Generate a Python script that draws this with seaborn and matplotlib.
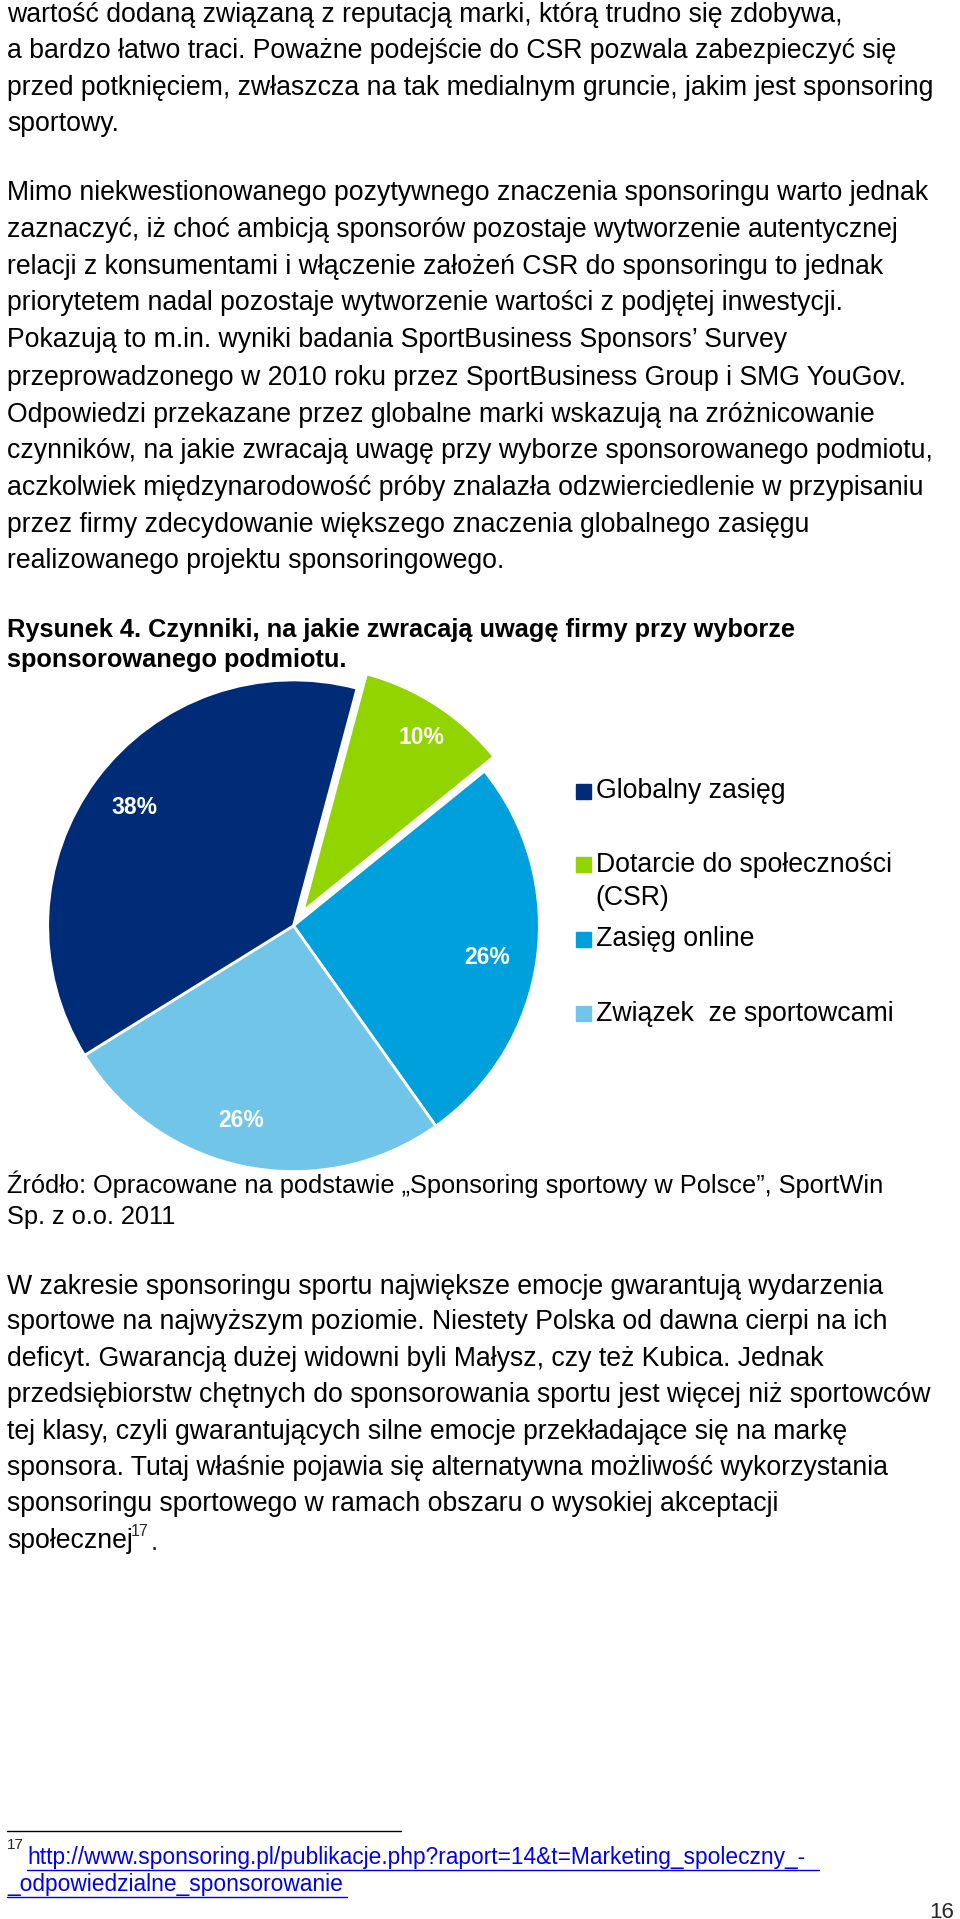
import matplotlib
matplotlib.use("Agg")
import matplotlib.pyplot as plt
import seaborn as sns

sns.set_theme(style="white")
plt.rcParams["font.family"] = "Liberation Sans"

categories = ["Dotarcie do społeczności\n(CSR)", "Zasięg online", "Związek  ze sportowcami", "Globalny zasięg"]
values = [10, 26, 26, 38]
colors = ["#92D400", "#00A0DC", "#71C5E8", "#002C77"]
legend_order = [3, 0, 1, 2]

S = 960 / 785.0
fig = plt.figure(figsize=(9.6, 19.19), dpi=100)

# pie
cx, cy, r = 240 * S, 757 * S, 201 * S
ax = fig.add_axes([(cx - r) / 960, 1 - (cy + r) / 1919, 2 * r / 960, 2 * r / 1919])
wedges, _ = ax.pie(values, colors=colors, startangle=75, counterclock=False,
                   explode=[0.07, 0, 0, 0],
                   wedgeprops=dict(edgecolor="white", linewidth=2))
ax.set_xlim(-1, 1); ax.set_ylim(-1, 1)
ax.set_aspect("equal")

page = fig.add_axes([0, 0, 1, 1], zorder=5)
page.set_xlim(0, 960); page.set_ylim(1919, 0); page.axis("off")
page.patch.set_alpha(0)

def T(x, y, s, **kw):
    kw.setdefault("fontsize", 19.2)
    page.text(x * S, y * S, s, va="center", ha="left", color="black", **kw)

body = [
    (12, "wartość dodaną związaną z reputacją marki, którą trudno się zdobywa,"),
    (42, "a bardzo łatwo traci. Poważne podejście do CSR pozwala zabezpieczyć się"),
    (72, "przed potknięciem, zwłaszcza na tak medialnym gruncie, jakim jest sponsoring"),
    (101, "sportowy."),
    (158, "Mimo niekwestionowanego pozytywnego znaczenia sponsoringu warto jednak"),
    (188, "zaznaczyć, iż choć ambicją sponsorów pozostaje wytworzenie autentycznej"),
    (218, "relacji z konsumentami i włączenie założeń CSR do sponsoringu to jednak"),
    (248, "priorytetem nadal pozostaje wytworzenie wartości z podjętej inwestycji."),
    (278, "Pokazują to m.in. wyniki badania SportBusiness Sponsors’ Survey"),
    (309, "przeprowadzonego w 2010 roku przez SportBusiness Group i SMG YouGov."),
    (339, "Odpowiedzi przekazane przez globalne marki wskazują na zróżnicowanie"),
    (369, "czynników, na jakie zwracają uwagę przy wyborze sponsorowanego podmiotu,"),
    (399, "aczkolwiek międzynarodowość próby znalazła odzwierciedlenie w przypisaniu"),
    (429, "przez firmy zdecydowanie większego znaczenia globalnego zasięgu"),
    (459, "realizowanego projektu sponsoringowego."),
    (968, "Źródło: Opracowane na podstawie „Sponsoring sportowy w Polsce”, SportWin"),
    (995, "Sp. z o.o. 2011"),
    (1052, "W zakresie sponsoringu sportu największe emocje gwarantują wydarzenia"),
    (1081, "sportowe na najwyższym poziomie. Niestety Polska od dawna cierpi na ich"),
    (1111, "deficyt. Gwarancją dużej widowni byli Małysz, czy też Kubica. Jednak"),
    (1141, "przedsiębiorstw chętnych do sponsorowania sportu jest więcej niż sportowców"),
    (1171, "tej klasy, czyli gwarantujących silne emocje przekładające się na markę"),
    (1200, "sponsora. Tutaj właśnie pojawia się alternatywna możliwość wykorzystania"),
    (1230, "sponsoringu sportowego w ramach obszaru o wysokiej akceptacji"),
    (1260, "społecznej"),
]
for y, s in body:
    T(6, y, s, fontsize=19.2 if not s.startswith(("Źródło", "Sp.")) else 18.3)
page.text(107 * S, 1252 * S, "17", fontsize=11.5, va="center", ha="left")
page.text(123 * S, 1262 * S, ".", fontsize=19.2, va="center", ha="left")
T(6, 515, "Rysunek 4. Czynniki, na jakie zwracają uwagę firmy przy wyborze", fontweight="bold", fontsize=18.3)
T(6, 540, "sponsorowanego podmiotu.", fontweight="bold", fontsize=18.3)

# footnote
page.plot([6 * S, 328 * S], [1497 * S, 1497 * S], color="black", lw=1)
page.text(6 * S, 1509 * S, "17", fontsize=11, va="center")
page.text(22 * S, 1519 * S, "http://www.sponsoring.pl/publikacje.php?raport=14&t=Marketing_spoleczny_-",
          fontsize=16.4, va="center", color="#0000EE")
page.plot([22 * S, 670 * S], [1529 * S, 1529 * S], color="#0000EE", lw=1)
page.text(6 * S, 1541 * S, "_odpowiedzialne_sponsorowanie", fontsize=16.4, va="center", color="#0000EE")
page.plot([6 * S, 284 * S], [1551 * S, 1551 * S], color="#0000EE", lw=1)
page.text(780 * S, 1564 * S, "16", fontsize=16, va="center", ha="right")

lab_pos = [(345, 603), (398, 783), (197, 916), (110, 660)]
for (x, y), v in zip(lab_pos, values):
    page.text(x * S, y * S, f"{v}%", color="white", fontweight="bold", fontsize=16.5,
              ha="center", va="center")

# legend
leg_y = [647, 707, 768, 829]
for y, i in zip(leg_y, legend_order):
    page.add_patch(plt.Rectangle((471 * S, (y - 6) * S), 12 * S, 12 * S, color=colors[i]))
    lines = categories[i].split("\n")
    for k, ln in enumerate(lines):
        T(487, y + k * 27, ln)

fig.savefig("out.png", dpi=100, facecolor="white")
